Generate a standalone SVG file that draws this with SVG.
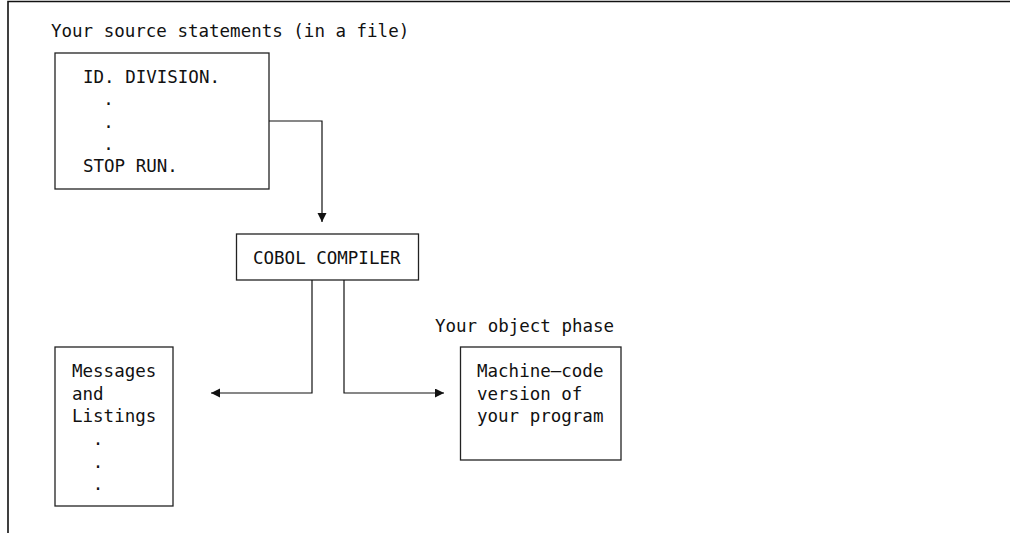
<svg xmlns="http://www.w3.org/2000/svg" width="1010" height="533" viewBox="0 0 1010 533">
  <style>
    .box { fill: #ffffff; stroke: #222222; stroke-width: 1.3; }
    .frame { fill: none; stroke: #111111; stroke-width: 1.6; }
    .wire { fill: none; stroke: #111111; stroke-width: 1.2; }
    text { font-family: "DejaVu Sans Mono", "Liberation Mono", monospace; font-size: 17.5px; fill: #111111; }
    .dot { text-anchor: middle; }
  </style>
  <defs>
    <marker id="arrow" markerUnits="userSpaceOnUse" markerWidth="10" markerHeight="10" refX="9" refY="4.5" orient="auto">
      <path d="M0,0 L9,4.5 L0,9 Z" fill="#111111"/>
    </marker>
  </defs>

  <rect width="1010" height="533" fill="#ffffff"/>

  <!-- page frame: top and left rules -->
  <path class="frame" d="M8,533 L8,1.5 L1010,1.5"/>

  <g id="source">
    <text x="51" y="37">Your source statements (in a file)</text>
    <rect class="box" x="55" y="53" width="214" height="136"/>
    <text x="83" y="83">ID. DIVISION.</text>
    <text class="dot" x="108.5" y="105.3">.</text>
    <text class="dot" x="108.5" y="127.5">.</text>
    <text class="dot" x="108.5" y="149.8">.</text>
    <text x="83" y="172">STOP RUN.</text>
  </g>

  <g id="compiler">
    <rect class="box" x="236.5" y="234" width="182" height="46"/>
    <text x="253" y="264">COBOL COMPILER</text>
  </g>

  <g id="listings">
    <rect class="box" x="55" y="347" width="118" height="159"/>
    <text x="72" y="377">Messages</text>
    <text x="72" y="399.5">and</text>
    <text x="72" y="422">Listings</text>
    <text class="dot" x="98" y="445">.</text>
    <text class="dot" x="98" y="467.5">.</text>
    <text class="dot" x="98" y="490">.</text>
  </g>

  <g id="object">
    <text x="435" y="332">Your object phase</text>
    <rect class="box" x="460.5" y="347" width="160.5" height="113"/>
    <text x="477" y="377">Machine—code</text>
    <text x="477" y="399.5">version of</text>
    <text x="477" y="422">your program</text>
  </g>

  <g id="connectors">
    <path class="wire" d="M269,121 L322,121 L322,222" marker-end="url(#arrow)"/>
    <path class="wire" d="M312,280 L312,393 L211,393" marker-end="url(#arrow)"/>
    <path class="wire" d="M344,280 L344,393 L444,393" marker-end="url(#arrow)"/>
  </g>
</svg>
